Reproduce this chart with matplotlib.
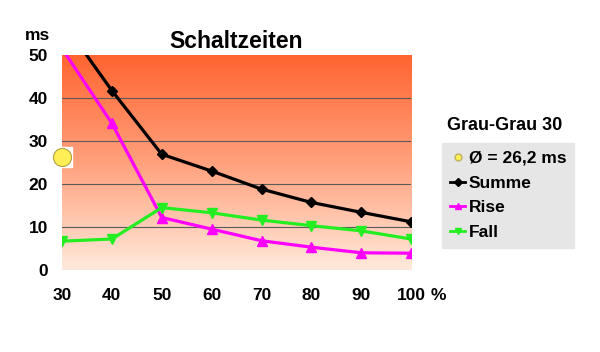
import matplotlib.pyplot as plt
from matplotlib.lines import Line2D
from matplotlib.colors import LinearSegmentedColormap
import numpy as np

plt.rcParams['font.family'] = ['Liberation Sans', 'DejaVu Sans']
plt.rcParams['font.weight'] = 'bold'

# data
helligkeit = [30, 40, 50, 60, 70, 80, 90, 100]
summe = [58, 41.7, 26.9, 23.0, 18.8, 15.7, 13.4, 11.2]
rise = [51.5, 34.1, 12.2, 9.5, 6.8, 5.3, 4.0, 3.9]
fall = [6.7, 7.2, 14.5, 13.3, 11.6, 10.3, 9.1, 7.2]
mittel_x = 30
mittel = 26.2
yticks = [0, 10, 20, 30, 40, 50]

fig = plt.figure(figsize=(6, 3.52), dpi=100)
ax = fig.add_axes([0.1033, 0.233, 0.582, 0.611])
ax.set_xlim(30, 100)
ax.set_ylim(0, 50)

# background gradient
cmap = LinearSegmentedColormap.from_list('bg', ['#FFEADC', '#FFA07C', '#FF6430'])
grad = np.linspace(0, 1, 256).reshape(-1, 1)
ax.imshow(grad, extent=[30, 100, 0, 50], origin='lower', aspect='auto',
          cmap=cmap, zorder=0)

for y in yticks[1:-1]:
    ax.axhline(y, color='#5a5a5a', lw=0.8, zorder=1)
ax.axhline(0, color='#999999', lw=0.8, zorder=1)

for s in ax.spines.values():
    s.set_visible(False)

ax.plot(helligkeit, summe, color='black', lw=2.3, marker='D', ms=5, zorder=3)
ax.plot(helligkeit, rise, color='#FF00FF', lw=2.3, marker='^', ms=7, zorder=3)
ax.plot(helligkeit, fall, color='#22EE22', lw=2.3, marker='v', ms=7, zorder=3)

# average point
ax.plot([mittel_x], [mittel], marker='s', ms=15, color='white', mec='white',
        clip_on=False, zorder=4)
ax.plot([mittel_x], [mittel], marker='o', ms=13, color='#FFEE55', mec='#B0A040',
        mew=0.8, clip_on=False, zorder=5)

ax.set_xticks(helligkeit)
ax.set_yticks(yticks)
ax.tick_params(length=0, labelsize=12.5, pad=10)
ax.tick_params(axis='x', pad=13)
for lab in ax.get_xticklabels() + ax.get_yticklabels():
    lab.set_fontweight('bold')

fig.text(236 / 600, 1 - 42 / 352, 'Schaltzeiten', ha='center', va='center',
         fontsize=16.5, fontweight='bold')
fig.text(37 / 600, 1 - 35 / 352, 'ms', ha='center', va='center',
         fontsize=12.5, fontweight='bold')
fig.text(438 / 600, 1 - 295 / 352, '%', ha='center', va='center',
         fontsize=12.5, fontweight='bold')
fig.text(505 / 600, 1 - 126 / 352, 'Grau-Grau 30', ha='center', va='center',
         fontsize=13, fontweight='bold')

handles = [
    Line2D([], [], ls='none', marker='o', ms=5, color='#FFEE55', mec='#C0B060'),
    Line2D([], [], color='black', lw=2, marker='D', ms=4),
    Line2D([], [], color='#FF00FF', lw=2, marker='^', ms=5),
    Line2D([], [], color='#22EE22', lw=2, marker='v', ms=5),
]
labels = ['Ø = 26,2 ms', 'Summe', 'Rise', 'Fall']
leg = fig.legend(handles, labels, loc='upper left',
                 bbox_to_anchor=(442 / 600, 1 - 143 / 352),
                 frameon=True, fancybox=False, handlelength=0.9,
                 handletextpad=0.2, borderpad=0.45, labelspacing=0.55,
                 borderaxespad=0, prop={'size': 12.5, 'weight': 'bold'})
leg.get_frame().set_facecolor('#E6E6E6')
leg.get_frame().set_edgecolor('#E6E6E6')
leg.get_frame().set_alpha(1)

fig.savefig('out.png', dpi=100)
